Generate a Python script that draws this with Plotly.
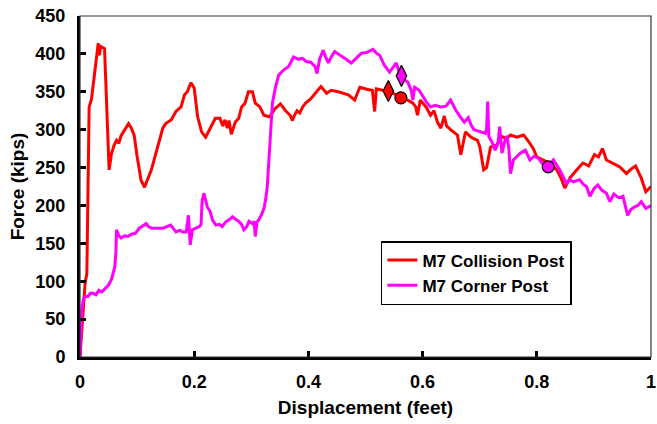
import plotly.graph_objects as go

# ---- data ----
collision_disp = [
    0, 0.004, 0.009, 0.012, 0.016, 0.02, 0.026, 0.03, 0.032, 0.034,
    0.036, 0.043, 0.047, 0.051, 0.055, 0.06, 0.064, 0.068, 0.072, 0.078,
    0.085, 0.09, 0.095, 0.1, 0.107, 0.113, 0.119, 0.125, 0.133, 0.14,
    0.145, 0.15, 0.154, 0.16, 0.168, 0.173, 0.177, 0.183, 0.188, 0.194,
    0.2, 0.206, 0.213, 0.22, 0.228, 0.237, 0.245, 0.25, 0.254, 0.258,
    0.261, 0.265, 0.272, 0.278, 0.283, 0.289, 0.295, 0.302, 0.307, 0.315,
    0.322, 0.332, 0.342, 0.351, 0.36, 0.368, 0.372, 0.375, 0.38, 0.385,
    0.39, 0.395, 0.403, 0.414, 0.422, 0.432, 0.44, 0.452, 0.47, 0.481,
    0.49, 0.504, 0.512, 0.516, 0.519, 0.53, 0.54, 0.551, 0.562, 0.574,
    0.583, 0.588, 0.591, 0.596, 0.606, 0.614, 0.62, 0.626, 0.632, 0.638,
    0.642, 0.649, 0.661, 0.667, 0.675, 0.685, 0.696, 0.7, 0.707, 0.712,
    0.719, 0.73, 0.739, 0.747, 0.754, 0.765, 0.777, 0.785, 0.794, 0.8,
    0.812, 0.824, 0.835, 0.843, 0.849, 0.858, 0.87, 0.881, 0.891, 0.901,
    0.908, 0.915, 0.922, 0.933, 0.945, 0.957, 0.965, 0.973, 0.983, 0.991,
    1.0,
]
collision_force = [
    0, 40, 98, 110, 330, 340, 381, 400, 414, 398,
    410, 407, 330, 247, 268, 280, 286, 282, 292, 300,
    308, 302, 292, 265, 233, 224, 235, 247, 269, 288,
    302, 308, 310, 313, 324, 328, 330, 346, 350, 362,
    355, 317, 297, 290, 302, 315, 315, 305, 313, 302,
    312, 294, 310, 315, 330, 335, 350, 350, 335, 330,
    319, 317, 328, 334, 325, 319, 312, 318, 325, 322,
    330, 335, 340, 350, 357, 348, 352, 350, 346, 339,
    356, 353, 352, 324, 354, 352, 351, 347, 342, 339,
    335, 330, 319, 339, 330, 319, 325, 310, 302, 318,
    305, 300, 293, 267, 297, 290, 286, 278, 247, 250,
    277, 280, 291, 288, 293, 290, 293, 285, 275, 264,
    260, 255, 247, 235, 223, 236, 247, 256, 252, 267,
    264, 275, 260, 256, 251, 242, 248, 252, 236, 218,
    225,
]

corner_disp = [
    0, 0.002, 0.003, 0.006, 0.01, 0.014, 0.018, 0.023, 0.028, 0.033,
    0.038, 0.041, 0.046, 0.05, 0.055, 0.058, 0.061, 0.063, 0.064, 0.068,
    0.072, 0.078, 0.084, 0.09, 0.097, 0.104, 0.11, 0.116, 0.12, 0.125,
    0.135, 0.145, 0.152, 0.159, 0.163, 0.168, 0.175, 0.18, 0.186, 0.19,
    0.193, 0.197, 0.203, 0.209, 0.212, 0.214, 0.217, 0.221, 0.223, 0.228,
    0.232, 0.238, 0.244, 0.249, 0.255, 0.261, 0.267, 0.272, 0.278, 0.283,
    0.287, 0.292, 0.296, 0.302, 0.305, 0.307, 0.31, 0.313, 0.318, 0.322,
    0.325, 0.328, 0.33, 0.333, 0.337, 0.342, 0.348, 0.357, 0.365, 0.37,
    0.374, 0.382, 0.39, 0.396, 0.404, 0.412, 0.415, 0.418, 0.42, 0.426,
    0.429, 0.435, 0.44, 0.446, 0.452, 0.458, 0.466, 0.475, 0.483, 0.493,
    0.503, 0.513, 0.519, 0.525, 0.533, 0.538, 0.542, 0.548, 0.554, 0.558,
    0.563, 0.568, 0.574, 0.58, 0.583, 0.586, 0.594, 0.6, 0.607, 0.614,
    0.622, 0.632, 0.641, 0.649, 0.653, 0.658, 0.665, 0.673, 0.68, 0.685,
    0.69, 0.7, 0.71, 0.712, 0.714, 0.716, 0.722, 0.727, 0.732, 0.735,
    0.739, 0.744, 0.748, 0.751, 0.754, 0.759, 0.765, 0.771, 0.78, 0.788,
    0.795, 0.803, 0.81, 0.82, 0.829, 0.84, 0.846, 0.852, 0.858, 0.864,
    0.875, 0.881, 0.887, 0.893, 0.9, 0.907, 0.914, 0.922, 0.928, 0.935,
    0.944, 0.951, 0.959, 0.965, 0.971, 0.977, 0.983, 0.991, 1.0,
]
corner_force = [
    0, 45, 62, 77, 80, 80, 84, 84, 82, 88,
    86, 88, 92, 95, 102, 112, 119, 140, 168, 160,
    157, 160, 159, 162, 163, 170, 173, 176, 172, 170,
    170, 170, 172, 174, 170, 165, 167, 165, 165, 187,
    148, 168, 170, 172, 175, 207, 216, 205, 198, 192,
    181, 174, 175, 172, 178, 181, 185, 182, 179, 175,
    168, 172, 179, 176, 179, 159, 178, 181, 188, 196,
    207, 225, 251, 295, 335, 355, 372, 379, 383, 390,
    396, 393, 394, 390, 389, 383, 374, 386, 394, 405,
    398, 388, 396, 403, 400, 398, 393, 388, 394, 401,
    402, 406, 401, 398, 385, 380, 376, 382, 388, 378,
    371, 366, 363, 352, 339, 356, 352, 345, 336, 330,
    332, 330, 331, 339, 333, 326, 318, 310, 316, 306,
    300, 297, 295, 300, 337, 291, 283, 273, 282, 304,
    269, 285, 292, 275, 242, 260, 265, 269, 273, 260,
    265, 262, 255, 251, 260, 247, 238, 229, 234, 231,
    234, 228, 225, 212, 222, 227, 220, 216, 205, 215,
    210, 212, 187, 195, 198, 200, 205, 196, 200,
]

# highlighted points
collision_mark_disp = [0.540, 0.562]
collision_mark_force = [351, 342]
collision_mark_symbol = ["diamond-tall", "circle"]
corner_mark_disp = [0.563, 0.820]
corner_mark_force = [371, 251]
corner_mark_symbol = ["diamond-tall", "circle"]

x_ticks = [0, 0.2, 0.4, 0.6, 0.8, 1.0]
x_tick_text = ["0", "0.2", "0.4", "0.6", "0.8", "1"]
y_ticks = [0, 50, 100, 150, 200, 250, 300, 350, 400, 450]

RED = "#FF0000"
MAGENTA = "#FF00FF"
FONT = "Liberation Sans, Arial, sans-serif"

fig = go.Figure()
fig.add_trace(go.Scatter(
    x=collision_disp, y=collision_force, mode="lines",
    name="<b>M7 Collision Post</b>", line=dict(color=RED, width=3),
))
fig.add_trace(go.Scatter(
    x=corner_disp, y=corner_force, mode="lines",
    name="<b>M7 Corner Post</b>", line=dict(color=MAGENTA, width=3),
))
fig.add_trace(go.Scatter(
    x=collision_mark_disp, y=collision_mark_force, mode="markers",
    showlegend=False, opacity=1,
    marker=dict(color=RED, size=[15, 12], symbol=collision_mark_symbol,
                opacity=1, line=dict(color="black", width=1.2)),
))
fig.add_trace(go.Scatter(
    x=corner_mark_disp, y=corner_mark_force, mode="markers",
    showlegend=False, opacity=1,
    marker=dict(color=MAGENTA, size=[15, 12], symbol=corner_mark_symbol,
                opacity=1, line=dict(color="black", width=1.2)),
))

axis_common = dict(
    showgrid=False, zeroline=False, showline=True, linecolor="black",
    linewidth=3, ticks="inside", ticklen=6, tickwidth=2.5, tickcolor="black",
    tickfont=dict(family=FONT, size=18, color="black", weight="bold"),
    automargin=False, ticklabeloverflow="allow",
)

fig.update_layout(
    width=657, height=424,
    margin=dict(l=80, r=6, t=16, b=67),
    paper_bgcolor="white", plot_bgcolor="white",
    font=dict(family=FONT, color="black"),
    xaxis=dict(
        range=[0, 1], tickvals=x_ticks, ticktext=x_tick_text,
        title=dict(text="<b>Displacement (feet)</b>",
                   font=dict(family=FONT, size=19, color="black"), standoff=11),
        ticklabelstandoff=6,
        **axis_common,
    ),
    yaxis=dict(
        range=[0, 450], tickvals=y_ticks,
        title=dict(text="<b>Force (kips)</b>",
                   font=dict(family=FONT, size=19, color="black"), standoff=6),
        ticklabelstandoff=8,
        **axis_common,
    ),
    legend=dict(
        x=0.527, y=0.34, xanchor="left", yanchor="top",
        bgcolor="white", bordercolor="black", borderwidth=1.5,
        font=dict(family=FONT, size=17, color="black"),
        itemwidth=30, tracegroupgap=0,
    ),
    shapes=[dict(type="rect", xref="paper", yref="paper", x0=0, x1=1, y0=0, y1=1,
                 line=dict(color="#333333", width=1.2), layer="above")],
    showlegend=True,
)

fig.write_html("out.html")
